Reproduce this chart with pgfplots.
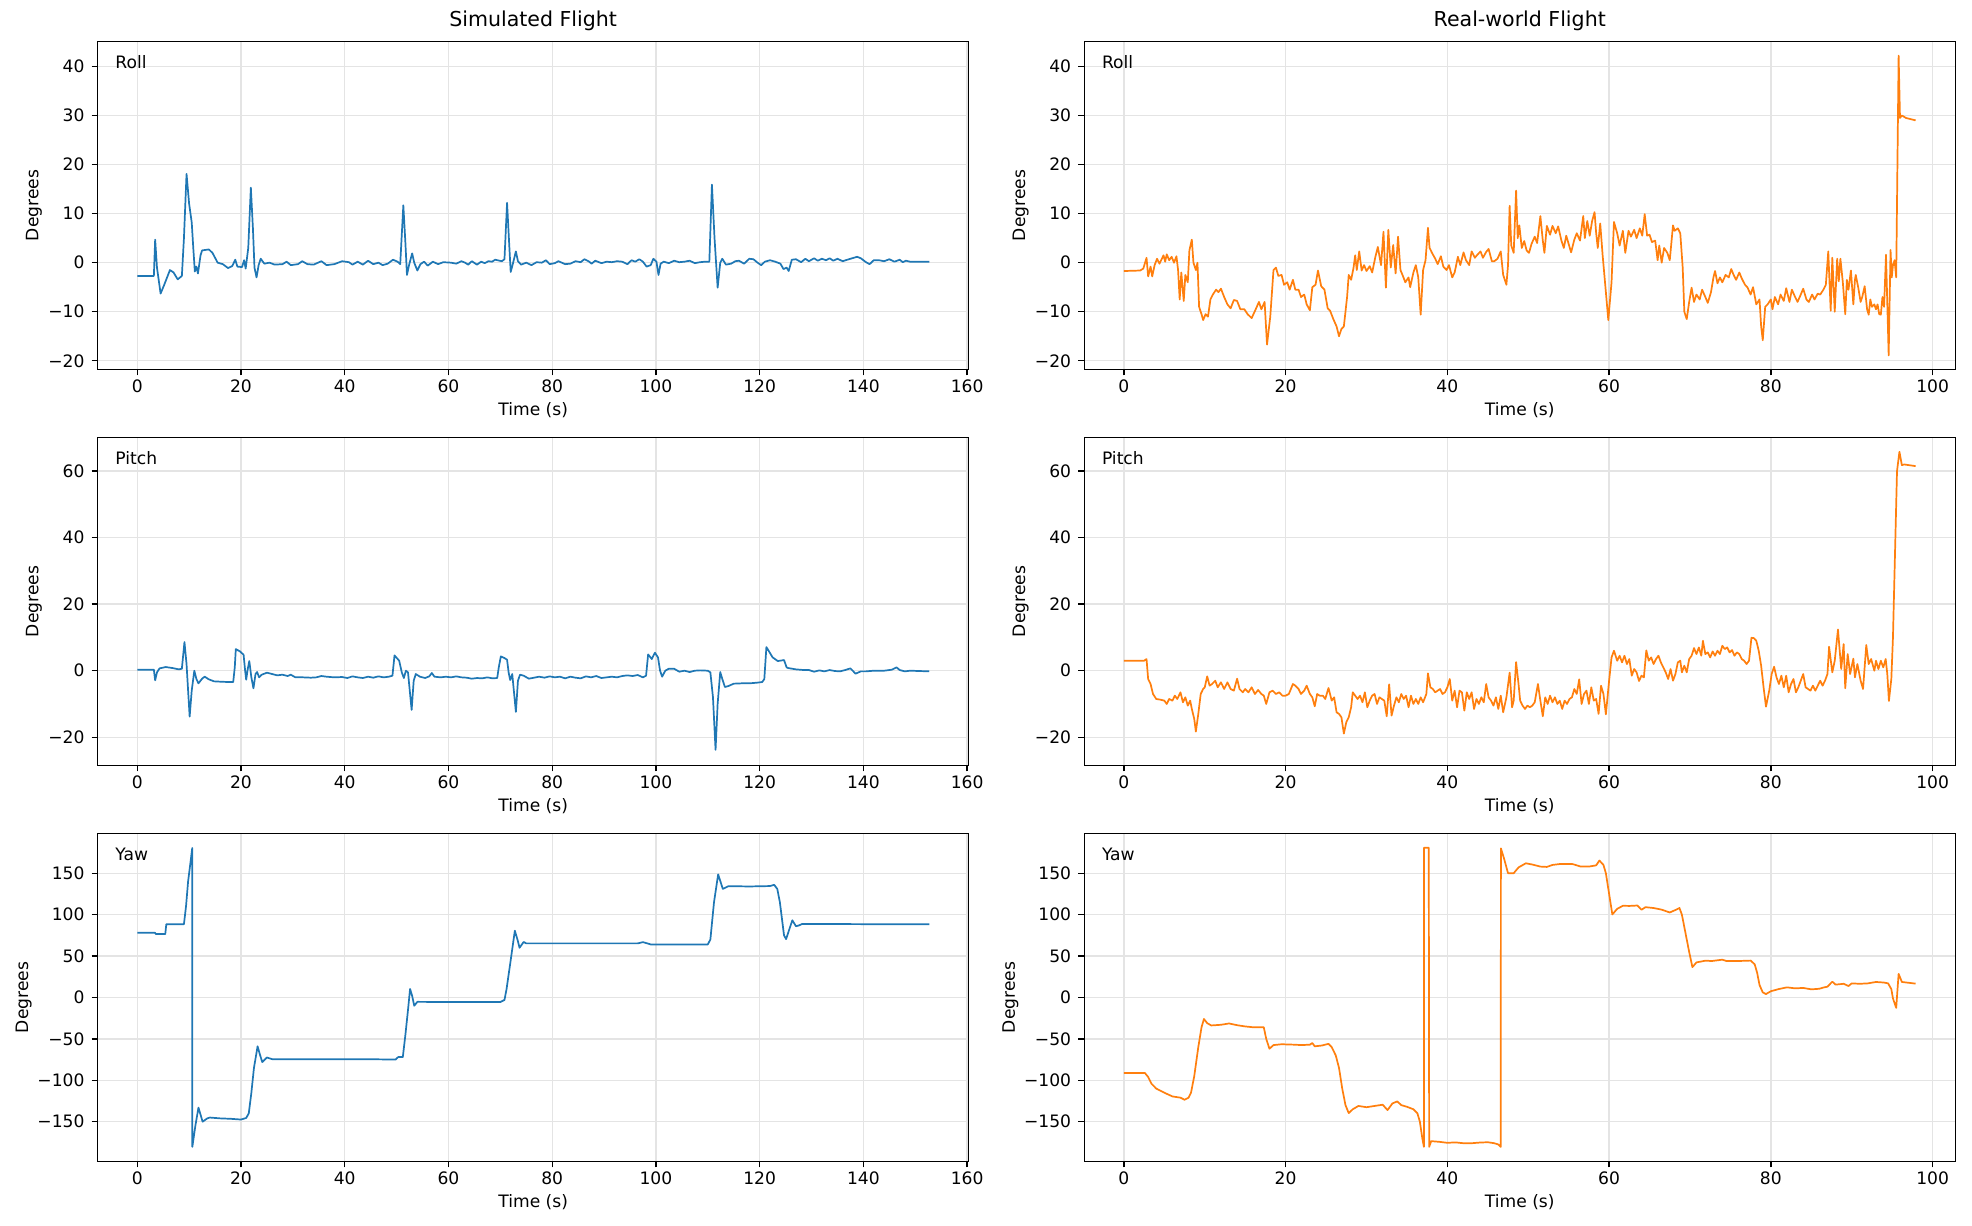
\documentclass[border=0pt]{standalone}
\usepackage{fontspec}
\setmainfont{DejaVu Sans}
\usepackage{pgfplots}
\pgfplotsset{compat=1.18}
\definecolor{tabblue}{HTML}{1F77B4}
\definecolor{taborange}{HTML}{FF7F0E}
\definecolor{gridc}{HTML}{E4E4E4}
\pgfplotsset{
  base/.style={
    scale only axis, width=508.8pt, height=191.6pt, anchor=south west,
    axis line style={black, line width=0.8pt},
    every tick/.style={black, line width=0.8pt},
    major tick length=3.5pt, tick align=outside,
    xtick pos=bottom, ytick pos=left,
    grid=major, major grid style={draw=gridc, line width=0.8pt},
    /pgf/number format/assume math mode=true,
    tick label style={font=\fontsize{10}{12}\selectfont},
    xticklabel style={anchor=north, inner sep=0pt, yshift=-2.5pt},
    yticklabel style={anchor=east, inner sep=0pt, xshift=-4pt},
    xlabel={Time (s)}, ylabel={Degrees},
    xlabel style={font=\fontsize{10}{12}\selectfont, at={(axis description cs:0.5,0)}, anchor=base, yshift=-26.8pt},
    ylabel style={font=\fontsize{10}{12}\selectfont, at={(axis description cs:0,0.5)}, anchor=center, yshift=37.2pt},
    title style={font=\fontsize{12}{14}\selectfont, at={(axis description cs:0.5,1)}, anchor=base, yshift=2.5pt},
    every axis plot/.append style={line width=1pt, line join=round},
  },
  leftcol/.style={xmin=-7.63, xmax=160.3, xtick={0,20,40,60,80,100,120,140,160}, xticklabels={0,20,40,60,80,100,120,140,160}},
  rightcol/.style={xmin=-4.9, xmax=102.8, xtick={0,20,40,60,80,100}, xticklabels={0,20,40,60,80,100}},
  rollrow/.style={ymin=-21.75, ymax=45.1, ytick={-20,-10,0,10,20,30,40}, yticklabels={−20,−10,0,10,20,30,40}},
  pitchrow/.style={ymin=-28.5, ymax=70.1, ytick={-20,0,20,40,60}, yticklabels={−20,0,20,40,60}},
  yawrow/.style={ymin=-198, ymax=198, ytick={-150,-100,-50,0,50,100,150}, yticklabels={−150,−100,−50,0,50,100,150},
    ylabel style={yshift=6pt}},
}
\newcommand{\tag}[1]{\node[anchor=north west, inner sep=0pt, font=\fontsize{10}{12}\selectfont] at (rel axis cs:0.02,0.957) {#1};}
\begin{document}
\begin{tikzpicture}
\useasboundingbox (0,0) rectangle (1152pt,716.2pt);
% ---------------- Sim Roll
\begin{axis}[base, leftcol, rollrow, at={(57.07pt,500.4pt)}, title={Simulated Flight}]
\addplot[tabblue] coordinates {(0,-2.7)(3.2,-2.7)(3.45,4.7)(3.8,-1)(4.5,-6.3)(5.2,-4.5)(6.3,-1.5)(7,-2)(7.8,-3.4)(8.6,-2.7)(9.0,5)(9.5,18.1)(10.0,12)(10.5,8.2)(10.8,3)(11.1,-1.8)(11.4,-0.8)(11.7,-2.2)(12.2,1.5)(12.5,2.5)(13.8,2.7)(14.5,2)(15.5,0)(16.5,-0.3)(17.5,-1.1)(18.3,-0.7)(18.9,0.6)(19.3,-0.8)(20.2,-0.9)(20.6,0.5)(20.9,-1.2)(21.4,3)(21.9,15.3)(22.3,7)(22.6,-1)(23.0,-3)(23.4,-0.5)(23.8,0.8)(24.5,-0.2)(25.5,0)(26.5,-0.4)(28,-0.3)(28.8,0.2)(29.6,-0.5)(31,-0.3)(31.8,0.3)(32.8,-0.3)(34,-0.4)(35.5,0.3)(36.5,-0.5)(38,-0.3)(39.5,0.3)(40.8,0.1)(41.5,-0.4)(42.5,0.2)(43.5,-0.4)(44.5,0.4)(45.5,-0.3)(46.5,0)(47.3,-0.5)(48.3,-0.2)(49.3,0.6)(50.2,0.2)(50.7,-0.3)(51.3,11.7)(51.7,4)(52.0,-2.5)(52.4,-0.5)(53.0,1.9)(53.4,0)(54.0,-1.6)(54.6,-0.3)(55.3,0.2)(56,-0.6)(57,0.2)(58,-0.3)(59,0.1)(60.5,0)(61.5,-0.2)(62.5,0.3)(63.2,0)(63.8,-0.4)(64.5,0.3)(65.5,-0.4)(66.3,0.2)(67,-0.1)(67.7,0.3)(68.4,0.2)(69,0.6)(70.3,0.3)(70.8,0.7)(71.3,12.2)(71.7,4)(72.0,-1.9)(72.4,-0.3)(73.0,2.3)(73.4,0.3)(74,-0.4)(75,0)(76,-0.5)(77,0.1)(78,0)(78.8,0.5)(79.5,-0.3)(80.5,-0.1)(81.2,0.3)(82.5,-0.3)(83.5,-0.2)(84.5,0.3)(85.5,0.1)(86.2,0.7)(87,0.3)(87.6,-0.2)(88.3,0.4)(89.5,-0.1)(90.5,0.2)(91.5,0.1)(92.5,0.3)(93.5,0.2)(94.5,-0.3)(95.3,0.5)(96,0.2)(96.8,0.7)(97.5,0.2)(98.2,-0.8)(99,-0.5)(99.5,0.8)(100.1,0.2)(100.5,-2.5)(100.9,-0.2)(101.5,0.2)(102.5,-0.1)(103.5,0.4)(104.5,0.1)(105.5,0.2)(106.5,0.4)(107.5,-0.1)(108.5,0.1)(109.5,0.2)(110.3,0.2)(110.8,15.9)(111.3,5)(111.9,-5.1)(112.4,0)(112.8,0.8)(113.5,-0.4)(114.5,-0.2)(115.3,0.3)(116,0.4)(117,-0.2)(118,0.8)(118.8,0.7)(119.6,0)(120.3,-0.5)(121,0.2)(122,0.5)(123,0.2)(124,-0.2)(124.6,-1.3)(125.2,-1.0)(125.6,-1.7)(126.2,0.6)(127,0.7)(128,0.1)(128.8,0.8)(129.5,0.3)(130.5,0.9)(131.2,0.4)(132,0.8)(132.8,0.5)(133.5,0.9)(134.2,0.4)(135,0.8)(136,0.3)(137.2,0.7)(138.8,1.2)(139.5,0.9)(140.5,0.1)(141.2,-0.3)(142,0.5)(143,0.5)(144,0.3)(145,0.7)(146,0.2)(147,0.6)(147.6,0.1)(148.2,0.4)(149,0.2)(150,0.2)(152.7,0.2)};
\tag{Roll}
\end{axis}
% ---------------- Real Roll
\begin{axis}[base, rightcol, rollrow, at={(633.4pt,500.4pt)}, title={Real-world Flight}]
\addplot[taborange] coordinates {(0,-1.7)(2.0,-1.6)(2.4,-1.2)(2.8,1.0)(3.0,-2.8)(3.3,-0.8)(3.5,-2.8)(3.8,-0.5)(4.1,0.8)(4.4,-0.2)(4.9,1.5)(5.1,0.2)(5.3,1.7)(5.6,0.5)(5.9,1.2)(6.2,0)(6.5,1.3)(6.7,-1.5)(6.9,-7.5)(7.1,-2)(7.4,-7.8)(7.6,-2.5)(7.9,-4)(8.1,2.5)(8.4,4.7)(8.6,0)(8.9,-1.5)(9.1,0)(9.3,-9)(9.6,-10.5)(9.8,-11.7)(10.1,-10.5)(10.4,-11)(10.7,-7.5)(11.0,-6.5)(11.4,-5.5)(11.7,-6)(12.0,-5.3)(12.4,-7)(12.8,-8.5)(13.2,-9.3)(13.6,-7.6)(14.0,-7.8)(14.4,-9.5)(14.9,-9.5)(15.3,-10.5)(15.8,-11.3)(16.3,-9.5)(16.7,-8)(17.0,-9.5)(17.4,-8)(17.7,-16.7)(18.1,-11)(18.5,-1.5)(18.8,-1)(19.1,-2.7)(19.5,-2.5)(19.8,-4.5)(20.2,-4)(20.5,-5.5)(20.9,-3.5)(21.2,-5.5)(21.6,-5.5)(21.9,-7)(22.3,-6.5)(22.6,-8.5)(23.0,-9.7)(23.3,-5)(23.7,-4.5)(24.0,-1.6)(24.4,-4.8)(24.8,-5.5)(25.2,-9.3)(25.5,-9.8)(25.9,-11.5)(26.3,-13)(26.6,-15)(26.9,-13.5)(27.2,-13)(27.6,-7)(27.8,-2.5)(28.1,-3.5)(28.4,-1)(28.6,1.5)(28.8,-1.5)(29.1,2.3)(29.4,-1.6)(29.7,-0.5)(30.0,-1.7)(30.4,-0.7)(30.7,-2)(31.1,1.2)(31.4,3.2)(31.8,-0.5)(32.1,6.3)(32.4,-5.1)(32.7,6.7)(33.0,-1)(33.3,3.6)(33.6,-2.2)(33.9,5.3)(34.2,-1.5)(34.5,-2.7)(34.8,-4)(35.2,-3)(35.4,-5)(35.8,-2)(36.1,-0.5)(36.4,-3)(36.7,-10.6)(37.0,-1.5)(37.3,0.5)(37.6,7.1)(37.8,3)(38.1,2)(38.5,0.8)(38.8,-0.3)(39.2,1.3)(39.5,-0.8)(39.9,-1.5)(40.2,-0.5)(40.6,-3)(40.9,-2)(41.3,1.2)(41.6,-0.5)(42.0,2.1)(42.3,0.5)(42.7,-0.5)(43.0,2.3)(43.4,1.0)(43.7,1.6)(44.1,2.3)(44.4,1.0)(44.8,2.2)(45.1,2.8)(45.5,0.3)(45.8,0.3)(46.2,0.8)(46.6,2.3)(46.9,-2.5)(47.3,-4.5)(47.5,-0.5)(47.7,11.6)(47.9,3.5)(48.2,2)(48.5,14.7)(48.7,5)(48.9,7.6)(49.2,3)(49.5,4.4)(49.8,2.5)(50.1,2)(50.4,3.8)(50.8,5.3)(51.1,4)(51.5,9.5)(51.8,4.5)(52.0,2)(52.3,7.5)(52.7,5.7)(53.0,7.5)(53.4,6)(53.7,7.4)(54.1,4.5)(54.4,3)(54.7,5.5)(55.0,3.8)(55.3,2.1)(55.7,4.7)(56.0,6)(56.4,4.5)(56.8,9.5)(57.0,5)(57.3,8.5)(57.6,5.5)(57.9,8.5)(58.2,10.3)(58.4,6)(58.6,3)(58.9,8)(59.2,1.5)(59.6,-6)(59.9,-11.7)(60.3,-4)(60.6,8.3)(61.0,6)(61.3,3.5)(61.7,6.5)(62.0,2.0)(62.4,6.5)(62.7,5.3)(63.1,6.7)(63.4,5)(63.8,7)(64.1,5.5)(64.4,9.9)(64.7,5.5)(65.0,5.7)(65.3,4.2)(65.7,4.5)(66.0,0.5)(66.2,3.5)(66.5,0)(66.8,3)(67.2,2)(67.5,0.5)(67.9,7.6)(68.1,6.5)(68.5,7)(68.8,6)(69.1,-1)(69.3,-10)(69.6,-11.5)(69.9,-8)(70.2,-5.1)(70.5,-8)(70.8,-6.5)(71.2,-7.5)(71.5,-5.5)(71.9,-7)(72.2,-8.2)(72.6,-6)(72.9,-3)(73.1,-1.7)(73.4,-4.2)(73.7,-3)(74.0,-4)(74.4,-2.5)(74.8,-3)(75.1,-1.3)(75.4,-2.5)(75.7,-3.5)(76.1,-2)(76.4,-3.2)(76.8,-4.5)(77.1,-5)(77.5,-6.5)(77.8,-5)(78.2,-8.5)(78.6,-7.5)(78.8,-13)(79.0,-15.8)(79.3,-9)(79.6,-8.5)(80.0,-7.5)(80.2,-9.5)(80.5,-7)(80.9,-8.5)(81.2,-6.5)(81.6,-7.8)(81.9,-5.2)(82.3,-8)(82.6,-5.5)(83.0,-7)(83.3,-8)(83.7,-6.5)(84.0,-5.3)(84.4,-7.5)(84.7,-8)(85.1,-6.5)(85.4,-7.5)(85.8,-6.3)(86.1,-6.5)(86.5,-5.5)(86.8,-4.5)(87.1,2.3)(87.4,-9.8)(87.6,1)(87.9,-10)(88.2,0.8)(88.4,-3.8)(88.6,0.8)(88.9,-4)(89.2,-10.5)(89.4,-3.5)(89.6,-5.5)(89.9,-1.6)(90.2,-8.5)(90.4,-3.5)(90.5,-2.5)(90.8,-5)(91.1,-8)(91.3,-7)(91.6,-4.8)(91.9,-9.5)(92.1,-10.6)(92.3,-7.5)(92.5,-9)(92.8,-8.5)(93.0,-9.5)(93.2,-8.5)(93.4,-10.5)(93.6,-10.6)(93.8,-7)(94.0,-9)(94.24,1.6)(94.57,-18.9)(94.8,2.6)(94.95,-3)(95.1,-0.5)(95.3,0.5)(95.5,-3)(95.8,42.2)(95.97,29.5)(96.2,30)(96.7,29.5)(97.9,29)};
\tag{Roll}
\end{axis}
% ---------------- Sim Pitch
\begin{axis}[base, leftcol, pitchrow, at={(57.07pt,269.0pt)}]
\addplot[tabblue] coordinates {(0,0.3)(3.2,0.3)(3.45,-2.9)(3.8,-0.5)(4.3,0.7)(5.5,1.1)(6.8,0.8)(8.0,0.4)(8.6,0.6)(9.1,8.6)(9.5,2)(10.1,-13.8)(10.5,-6)(11.0,0)(11.4,-2.5)(11.8,-3.8)(12.5,-2.4)(13.0,-1.8)(13.8,-2.6)(14.8,-3.2)(16,-3.3)(17.5,-3.4)(18.5,-3.4)(18.8,1)(19.0,6.5)(19.8,5.8)(20.5,4.8)(20.8,0)(21.0,-2.7)(21.3,0.5)(21.6,2.9)(22.0,-2)(22.4,-5.3)(22.8,-1)(23.1,-0.4)(23.5,-2)(24,-1.2)(25,-0.6)(26,-1)(27,-1.4)(28,-1.2)(29,-1.6)(29.6,-1.2)(30.5,-2)(32,-2)(33.5,-2.1)(34.5,-2)(35.5,-1.6)(36.5,-1.8)(38,-2)(39.5,-1.9)(40.5,-2.2)(41.5,-1.7)(42.5,-2)(43.5,-2.2)(44.5,-1.8)(45.5,-2.1)(46.5,-1.7)(47.5,-2)(48.5,-1.8)(49.2,-1.5)(49.6,4.6)(50.5,3)(51.0,-0.5)(51.4,-2.2)(51.8,0)(52.2,-0.5)(52.9,-11.8)(53.3,-3)(53.7,-1)(54.5,-1.8)(55.5,-2.2)(56.3,-1.7)(56.8,-0.7)(57.3,-1.8)(58.5,-2)(59.5,-1.8)(60.5,-2)(61.5,-1.7)(62.5,-2)(63.5,-2.1)(64.5,-2.4)(65.5,-2.2)(66.5,-2.3)(67.5,-2.0)(68.5,-2.3)(69.4,-2.2)(69.7,1)(70.1,4.3)(70.8,3.8)(71.3,3.3)(71.6,-0.5)(71.9,-2.8)(72.3,-1)(73.0,-12.4)(73.4,-3)(73.8,-1.2)(74.5,-1.5)(75.5,-2.4)(76.5,-2.1)(77.5,-1.8)(78.5,-2.1)(79.5,-1.7)(80.5,-2)(81.5,-1.8)(82.5,-2.3)(83.5,-1.8)(84.5,-2.1)(85.5,-2.3)(86.5,-1.7)(87.5,-2)(88.5,-1.6)(89.5,-2.2)(90.5,-2)(91.5,-1.8)(92.5,-2)(93.5,-1.6)(94.5,-1.4)(95.5,-1.6)(96.5,-1.3)(97.5,-2)(98.1,-1.5)(98.5,4.9)(99.2,3.5)(99.8,5.4)(100.4,4)(100.8,0)(101.2,-1.8)(101.8,0)(102.5,0.6)(103.5,0.6)(104.5,-0.3)(105.5,0)(106.5,-0.4)(107.5,0)(108.5,0.1)(110,0)(110.5,-0.5)(111.0,-8)(111.5,-23.8)(111.9,-10)(112.4,-0.4)(112.8,-2.5)(113.3,-4.9)(114,-4.6)(115,-3.9)(116.5,-3.8)(118,-3.8)(119.5,-3.6)(120.5,-3.4)(120.9,-2.5)(121.3,7.1)(122.5,4)(123.5,2.9)(124.7,3.2)(125.2,1)(125.5,0.8)(127,0.4)(128.5,0.2)(129.5,0.2)(130.5,-0.3)(131.5,0.1)(132.5,-0.2)(133.5,0.2)(134.5,-0.1)(135.5,-0.2)(136.5,0.2)(137.5,0.7)(138.5,-0.9)(139.5,-0.2)(140.5,-0.2)(142,0)(144,0)(145.5,0.3)(146.4,1)(147,0.2)(148,-0.2)(149,0)(152.7,-0.2)};
\tag{Pitch}
\end{axis}
% ---------------- Real Pitch
\begin{axis}[base, rightcol, pitchrow, at={(633.4pt,269.0pt)}]
\addplot[taborange] coordinates {(0,3.0)(2.5,3.0)(2.8,3.5)(3.0,-2.5)(3.3,-4)(3.6,-7)(4.0,-8.5)(4.5,-8.7)(5.0,-9)(5.3,-10)(5.6,-8.5)(6.0,-9)(6.3,-7.5)(6.6,-8.5)(7.0,-6.5)(7.3,-9.5)(7.6,-8)(7.9,-10.5)(8.2,-9)(8.4,-11.5)(8.7,-14.5)(8.9,-18.3)(9.2,-13)(9.5,-7)(9.8,-5.5)(10.0,-5)(10.3,-1.7)(10.6,-4.5)(10.9,-4)(11.3,-3)(11.6,-5)(12.0,-3.5)(12.4,-5.5)(12.8,-3.5)(13.2,-5.5)(13.6,-6)(14.0,-2.4)(14.3,-5.5)(14.7,-6.5)(15.0,-5.5)(15.4,-6.5)(15.8,-5)(16.2,-7)(16.6,-5.8)(17.0,-7)(17.3,-7.5)(17.6,-10)(18.0,-6.5)(18.4,-6)(18.8,-7)(19.2,-6.5)(19.6,-7.5)(20.0,-7.5)(20.4,-7)(20.9,-4)(21.2,-4.5)(21.6,-5.5)(21.9,-7)(22.3,-6)(22.6,-4.5)(23.0,-7)(23.3,-8)(23.6,-10.7)(23.9,-7)(24.2,-7.5)(24.6,-7.5)(24.9,-8.5)(25.3,-5.2)(25.7,-9)(26.0,-8)(26.3,-12.5)(26.6,-13)(26.9,-14)(27.2,-18.9)(27.5,-15.5)(27.8,-14)(28.1,-11)(28.3,-6.5)(28.6,-7.5)(28.9,-8.5)(29.2,-7.5)(29.5,-9.5)(29.8,-6.5)(30.1,-11)(30.4,-9)(30.7,-7.5)(31.0,-7)(31.3,-10)(31.6,-8)(31.9,-8.5)(32.2,-9)(32.5,-13.7)(32.8,-4.1)(33.1,-13.5)(33.4,-10.5)(33.7,-8)(34.0,-9.5)(34.3,-7)(34.6,-8.5)(34.9,-7.5)(35.2,-11)(35.5,-7.5)(35.8,-10)(36.1,-8.5)(36.4,-10)(36.7,-8)(37.0,-9.5)(37.4,-7)(37.6,-0.8)(37.9,-5)(38.2,-5.5)(38.5,-6.5)(38.8,-6)(39.1,-5.5)(39.4,-7)(39.7,-6.5)(40.0,-5)(40.3,-2.5)(40.6,-9)(40.9,-6)(41.2,-11)(41.5,-6)(41.8,-6.5)(42.1,-12)(42.4,-6.5)(42.7,-8.5)(43.0,-6.5)(43.3,-11.5)(43.6,-8.5)(43.9,-10)(44.2,-8)(44.5,-9.5)(44.8,-4)(45.1,-8)(45.4,-9)(45.7,-10.5)(46.0,-8)(46.3,-11.5)(46.6,-7.5)(46.9,-12.5)(47.3,-8)(47.7,-0.6)(48.0,-11)(48.2,-9)(48.5,2.6)(48.8,-4)(49.0,-9)(49.3,-10.5)(49.6,-11.5)(49.9,-10.5)(50.2,-11)(50.5,-10.5)(50.8,-9.5)(51.2,-4)(51.5,-9)(51.8,-13.7)(52.1,-8)(52.4,-10)(52.7,-7.5)(53.0,-9.5)(53.3,-8)(53.6,-10)(53.9,-9)(54.2,-11.5)(54.5,-9)(54.8,-10)(55.1,-8.5)(55.4,-8)(55.7,-5.5)(56.0,-7)(56.3,-2.6)(56.6,-10)(56.9,-7)(57.2,-6)(57.5,-10)(57.8,-5)(58.1,-9)(58.4,-8.5)(58.7,-13)(59.0,-4.5)(59.3,-7)(59.6,-13.1)(60.0,-3)(60.3,4)(60.6,6)(61.0,3)(61.3,4.5)(61.6,2.5)(61.9,4.5)(62.2,2)(62.5,3.5)(62.8,-1.5)(63.1,0.5)(63.4,-0.5)(63.7,-3.1)(64.0,-1.5)(64.3,-2)(64.6,6.1)(64.9,3)(65.2,4)(65.5,2)(65.8,3.5)(66.1,4.5)(66.4,2.5)(66.7,1)(67.0,-0.5)(67.3,-2.5)(67.6,0.5)(67.9,-3)(68.2,-1)(68.5,2.5)(68.8,3)(69.0,-0.5)(69.3,1.5)(69.6,-0.5)(69.9,3.5)(70.2,4.5)(70.5,6.8)(70.8,5)(71.1,7)(71.4,4.5)(71.6,9.0)(71.9,5)(72.2,5.5)(72.5,4)(72.8,5.8)(73.1,4.5)(73.4,6)(73.7,5)(74.0,7.5)(74.3,6.5)(74.6,7)(74.9,5.5)(75.2,6.2)(75.5,4.5)(75.8,5.5)(76.1,5)(76.4,3.5)(76.7,3)(77.0,2)(77.3,3)(77.6,9.9)(77.9,9.8)(78.2,9)(78.5,6)(78.8,1.5)(79.1,-5)(79.4,-10.8)(79.8,-6)(80.1,-1)(80.4,1.2)(80.7,-2)(81.0,-4)(81.3,-1.5)(81.6,-5)(81.9,-1.5)(82.2,-6.5)(82.5,-4)(82.8,-2.5)(83.1,-6.5)(83.4,-5)(83.7,-3)(84.0,-1)(84.3,-5)(84.6,-5.5)(84.9,-6)(85.2,-4.5)(85.5,-6)(85.8,-4.5)(86.1,-3)(86.4,-4.5)(86.7,-3)(87.0,-1)(87.2,7.2)(87.6,-0.5)(87.9,3)(88.3,12.4)(88.7,0.5)(89.0,8)(89.2,-5.3)(89.5,5)(89.8,-1)(90.2,3.6)(90.4,-2)(90.7,2)(91.1,-3)(91.4,-5.5)(91.8,7.7)(92.1,2)(92.4,3.5)(92.8,0)(93.0,3)(93.3,0.5)(93.6,3)(93.9,1)(94.2,3.5)(94.4,-1)(94.6,-9.1)(94.9,-2.4)(95.1,10)(95.4,40)(95.6,60)(95.9,65.8)(96.2,61.8)(96.5,62)(97.9,61.5)};
\tag{Pitch}
\end{axis}
% ---------------- Sim Yaw
\begin{axis}[base, leftcol, yawrow, at={(57.07pt,37.7pt)}]
\addplot[tabblue] coordinates {(0,78.2)(3.4,78.2)(3.6,76.5)(5.4,76.5)(5.6,88.5)(9.0,88.5)(9.4,110)(9.8,140)(10.3,165)(10.6,180.5)(10.62,-180.4)(11.2,-155)(11.8,-133)(12.6,-150)(13.5,-146)(14,-145)(16,-146)(18,-146.5)(20,-147.4)(21,-145.5)(21.5,-140)(22.0,-115)(22.5,-85)(23.2,-59)(23.7,-70)(24.1,-78)(24.6,-75)(25,-72.5)(26,-74.5)(30,-74.5)(40,-74.5)(45,-74.6)(49.8,-75)(50.3,-72)(51.2,-72)(51.7,-45)(52.2,-15)(52.6,10.2)(53.0,2)(53.4,-10)(54,-5.3)(60,-5.5)(67,-5.5)(70,-5.5)(70.8,-3)(71.2,10)(72.0,45)(72.8,80.6)(73.3,70)(73.7,60)(74.5,67)(75,65.3)(85,65.3)(96.5,65.3)(97.5,66.8)(98.5,65)(99,64)(110,64)(110.5,70)(111.2,115)(112.0,148.6)(112.9,131)(114,134.4)(118,134)(122,134.5)(122.8,136)(123.4,131)(123.9,115)(124.3,95)(124.7,75)(125.1,70.4)(125.6,80)(126.3,93.2)(127.0,86)(127.6,87)(128.2,88.8)(140,88.5)(152.7,88.5)};
\tag{Yaw}
\end{axis}
% ---------------- Real Yaw
\begin{axis}[base, rightcol, yawrow, at={(633.4pt,37.7pt)}]
\addplot[taborange] coordinates {(0,-91.2)(2.6,-91.2)(3.0,-96)(3.4,-104)(4.0,-110)(5.0,-115)(6.0,-119.5)(7.0,-121)(7.5,-123.5)(8.0,-121)(8.3,-115)(8.7,-95)(9.2,-60)(9.6,-36)(9.9,-26)(10.3,-31)(10.8,-33.8)(12,-33)(13,-31.4)(14,-33.5)(15,-35)(16,-36)(17.3,-36)(17.6,-50)(18.0,-61.9)(18.5,-57.5)(19.5,-56.5)(21,-57)(22,-57.5)(23,-57)(23.3,-55)(23.6,-59)(24.5,-58)(25.3,-56)(25.7,-60)(26.2,-70)(26.6,-85)(27.0,-110)(27.4,-130)(27.8,-139.6)(28.3,-135)(29,-131)(30,-132.5)(31,-131)(32,-129.5)(32.6,-136)(33.2,-128)(33.8,-125.5)(34.3,-130)(35,-132)(35.8,-135)(36.3,-140)(36.6,-150)(36.9,-170)(37.1,-180.4)(37.12,180.8)(37.7,180.8)(37.75,-180.4)(38.0,-173.5)(39,-174.3)(40,-175.5)(41,-175)(42,-176)(43,-176)(44,-175.2)(45,-174.8)(45.8,-176)(46.3,-177.5)(46.6,-180.4)(46.62,180)(47.0,168)(47.5,150)(48.2,150)(48.8,157)(49.7,162)(50.5,160.5)(51.5,158)(52.3,157.6)(53,160)(54,161.2)(55.5,161)(56.5,158)(57.5,158)(58.4,159.5)(58.8,165.3)(59.3,160)(59.6,150)(60.0,125)(60.4,100.2)(61.0,107)(61.7,110.7)(62.5,110.5)(63.5,111)(64,105.9)(64.5,109)(65.5,108)(66.5,106)(67.5,102.6)(68.3,106)(68.7,108)(69.0,100)(69.4,80)(69.9,55)(70.3,36.6)(70.8,42.3)(71.9,44.4)(72.7,44)(74,45.6)(74.5,44)(76,44)(77.5,44.5)(78.0,40)(78.3,30)(78.6,15)(79.0,6.1)(79.4,4.1)(80,7.5)(81,10.2)(82,12.2)(83,11)(84,11.5)(85,9.8)(86,10.5)(86.5,12)(87,13)(87.6,19.1)(88.0,15.5)(89,16.5)(89.6,13.8)(90,17)(91,16.5)(92,17)(93.0,18.7)(94.0,18)(94.5,17)(94.9,10)(95.1,-1.2)(95.5,-12.6)(95.8,28.5)(96.2,18.7)(97.9,16.7)};
\tag{Yaw}
\end{axis}
\end{tikzpicture}
\end{document}
